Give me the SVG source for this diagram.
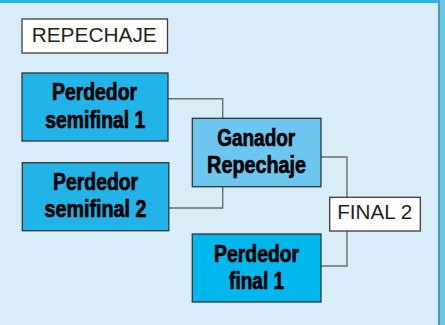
<svg xmlns="http://www.w3.org/2000/svg" width="445" height="325" viewBox="0 0 445 325">
  <style>
    .lbl { fill: #fff; stroke: #3a3a3a; stroke-width: 1.3; }
    .node { stroke: #333; stroke-width: 1.3; }
    .bt { font-family: "Liberation Sans", Arial, sans-serif; font-weight: bold; font-size: 23px; fill: #000; stroke: #000; stroke-width: 0.7; text-anchor: middle; }
    .rt { font-family: "Liberation Sans", Arial, sans-serif; font-size: 20px; fill: #231f20; text-anchor: middle; }
    .conn { fill: none; stroke: #6d6e71; stroke-width: 1.4; }
  </style>
  <rect x="0" y="0" width="445" height="325" fill="#d8edf8"/>
  <rect x="0" y="0" width="439" height="3" fill="#2cb5e8"/>
  <rect x="438" y="0" width="2" height="325" fill="#4a9bb0"/>
  <rect x="440" y="0" width="5" height="325" fill="#6cc8e8"/>

  <g id="connectors">
    <polyline class="conn" points="168,98.7 222.7,98.7 222.7,118.3"/>
    <polyline class="conn" points="222.7,186.7 222.7,208 168,208"/>
    <polyline class="conn" points="321,157 347,157 347,197.3"/>
    <polyline class="conn" points="347,231 347,266 321,266"/>
  </g>

  <g id="repechaje">
    <rect class="lbl" x="22" y="19" width="145.5" height="34"/>
    <text class="rt" x="94.2" y="41.7" textLength="125" lengthAdjust="spacingAndGlyphs">REPECHAJE</text>
  </g>

  <g id="perdedor-semifinal-1">
    <rect class="node" x="22" y="73" width="146" height="68" fill="#22b4e8"/>
    <text class="bt" x="94.5" y="100" textLength="85" lengthAdjust="spacingAndGlyphs">Perdedor</text>
    <text class="bt" x="95.3" y="127.7" textLength="100" lengthAdjust="spacingAndGlyphs">semifinal 1</text>
  </g>

  <g id="perdedor-semifinal-2">
    <rect class="node" x="22.3" y="162.7" width="146.5" height="68" fill="#22b4e8"/>
    <text class="bt" x="95.6" y="190" textLength="85" lengthAdjust="spacingAndGlyphs">Perdedor</text>
    <text class="bt" x="95.5" y="216.7" textLength="102" lengthAdjust="spacingAndGlyphs">semifinal 2</text>
  </g>

  <g id="ganador-repechaje">
    <rect class="node" x="192.3" y="118.3" width="128.7" height="68.4" fill="#6cc6f0"/>
    <text class="bt" x="256.2" y="146" textLength="78" lengthAdjust="spacingAndGlyphs">Ganador</text>
    <text class="bt" x="256.6" y="172.7" textLength="99" lengthAdjust="spacingAndGlyphs">Repechaje</text>
  </g>

  <g id="final-2">
    <rect class="lbl" x="329.7" y="197.3" width="90.6" height="33.7"/>
    <text class="rt" x="374.7" y="219.3" textLength="75" lengthAdjust="spacingAndGlyphs">FINAL 2</text>
  </g>

  <g id="perdedor-final-1">
    <rect class="node" x="192.3" y="234" width="128.7" height="68" fill="#00b8ee"/>
    <text class="bt" x="256.6" y="261.7" textLength="85" lengthAdjust="spacingAndGlyphs">Perdedor</text>
    <text class="bt" x="256.6" y="288.7" textLength="55" lengthAdjust="spacingAndGlyphs">final 1</text>
  </g>
</svg>
